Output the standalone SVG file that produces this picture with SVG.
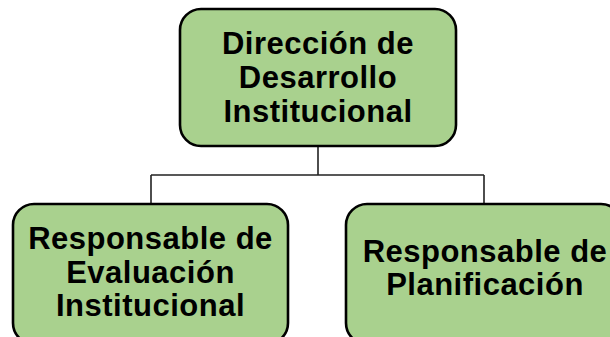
<svg xmlns="http://www.w3.org/2000/svg" width="610" height="337" viewBox="0 0 610 337">
<style>
.box{fill:#A9D18E;stroke:#000;stroke-width:2.6}
.lbl{font-family:"Liberation Sans",Arial,sans-serif;font-weight:bold;font-size:31px;fill:#000;text-anchor:middle;letter-spacing:0.5px}
.con{fill:none;stroke:#222;stroke-width:1.6}
</style>
<rect width="610" height="337" fill="#fff"/>
<g id="connectors">
<path class="con" d="M318 146 V175 M151 175 H484 M151 175 V203 M484 175 V203"/>
</g>
<g id="n1">
<rect class="box" x="180" y="9" width="276" height="137" rx="21"/>
<text class="lbl" x="318" y="53.5">Dirección de</text>
<text class="lbl" x="318" y="88">Desarrollo</text>
<text class="lbl" x="318" y="122">Institucional</text>
</g>
<g id="n2">
<rect class="box" x="13" y="204" width="275" height="140" rx="21"/>
<text class="lbl" x="150.5" y="249">Responsable de</text>
<text class="lbl" x="150.5" y="283">Evaluación</text>
<text class="lbl" x="150.5" y="316">Institucional</text>
</g>
<g id="n3">
<rect class="box" x="346" y="204" width="276" height="140" rx="21"/>
<text class="lbl" x="485" y="262">Responsable de</text>
<text class="lbl" x="485" y="295">Planificación</text>
</g>
</svg>
